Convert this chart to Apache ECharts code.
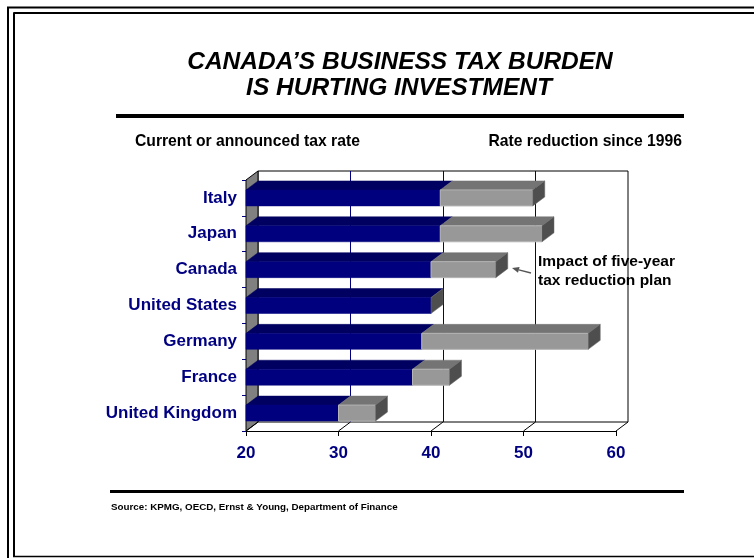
<!DOCTYPE html>
<html>
<head>
<meta charset="utf-8">
<script src="https://cdn.jsdelivr.net/npm/echarts@6/dist/echarts.min.js"></script>
<style>
  html, body { margin: 0; padding: 0; background: #fff; }
  #chart { width: 754px; height: 558px; }
</style>
</head>
<body>
<div id="chart"></div>
<script>
// Corporate tax rates, percent
const countries   = ['Italy', 'Japan', 'Canada', 'United States', 'Germany', 'France', 'United Kingdom'];
const currentRate = [41, 41, 40, 40, 39, 38, 30];   // current or announced rate
const rate1996    = [51, 52, 47, 40, 57, 42, 34];   // rate in 1996 (top of the grey segment)

// Rate axis
const axisMin = 20;
const axisMax = 60;
const axisStep = 10;

const FONT = '"Liberation Sans", Arial, Helvetica, sans-serif';
const NAVY = '#000080';
const DX = 12, DY = -9;   // depth offset used for the 3-D walls and bars
const HALF = 8;           // half height of a bar's front face

const chart = echarts.init(document.getElementById('chart'), null, { renderer: 'canvas' });

// Side wall and floor lines, drawn from the front grid's own scale
function renderWalls(params, api) {
  const cs = params.coordSys;
  const left = cs.x, top = cs.y, bottom = cs.y + cs.height;
  const children = [{
    type: 'polygon',
    shape: { points: [[left, top], [left + DX, top + DY], [left + DX, bottom + DY], [left, bottom]] },
    style: { fill: '#808080', stroke: '#000', lineWidth: 1 }
  }];
  for (let v = axisMin; v <= axisMax; v += axisStep) {
    const x = api.coord([v, 0])[0];
    children.push({
      type: 'line',
      shape: { x1: x, y1: bottom, x2: x + DX, y2: bottom + DY },
      style: { stroke: '#000', lineWidth: 1 }
    });
  }
  return { type: 'group', children: children };
}

function topFace(xa, xb, yTop, fill) {
  return {
    type: 'polygon',
    shape: { points: [[xa, yTop], [xb, yTop], [xb + DX, yTop + DY], [xa + DX, yTop + DY]] },
    style: { fill: fill, stroke: fill, lineWidth: 0.5 }
  };
}

// One 3-D stacked bar: navy (current rate) + grey (reduction since 1996)
function renderBar(params, api) {
  const i = api.value(0);
  const cur = api.value(1);
  const old = api.value(2);
  const p0 = api.coord([axisMin, i]);
  const p1 = api.coord([cur, i]);
  const p2 = api.coord([old, i]);
  const cy = p0[1];
  const x0 = p0[0], x1 = p1[0], x2 = p2[0];
  const yT = cy - HALF, yB = cy + HALF;
  const children = [
    topFace(x0, x1, yT, '#000060'),
    { type: 'rect', shape: { x: x0, y: yT, width: x1 - x0, height: yB - yT },
      style: { fill: '#00007e', stroke: '#00007e', lineWidth: 0.5 } }
  ];
  if (x2 > x1) {
    children.push(topFace(x1, x2, yT, '#747474'));
    children.push({ type: 'rect', shape: { x: x1, y: yT, width: x2 - x1, height: yB - yT },
      style: { fill: '#989898', stroke: '#b4b4b4', lineWidth: 1 } });
  }
  children.push({
    type: 'polygon',
    shape: { points: [[x2, yT], [x2 + DX, yT + DY], [x2 + DX, yB + DY], [x2, yB]] },
    style: { fill: '#4e4e4e', stroke: '#6a6a6a', lineWidth: 0.5 }
  });
  return { type: 'group', children: children };
}

const option = {
  animation: false,
  backgroundColor: '#fff',
  grid: [
    // front plane
    { left: 246, right: 138, top: 180, bottom: 127, show: false },
    // back wall
    { left: 258, right: 126, top: 171, bottom: 136, show: true,
      backgroundColor: '#fff', borderColor: '#000', borderWidth: 1 }
  ],
  xAxis: [
    {
      gridIndex: 0, type: 'value', min: axisMin, max: axisMax, interval: axisStep,
      axisLine: { show: true, lineStyle: { color: '#000', width: 1 } },
      axisTick: { show: true, length: 5, lineStyle: { color: '#000' } },
      axisLabel: { color: NAVY, fontFamily: FONT, fontWeight: 'bold', fontSize: 17, margin: 14 },
      splitLine: { show: false }
    },
    {
      gridIndex: 1, type: 'value', min: axisMin, max: axisMax, interval: axisStep,
      axisLine: { show: false }, axisTick: { show: false }, axisLabel: { show: false },
      splitLine: { show: true, showMinLine: false, showMaxLine: false,
                   lineStyle: { color: NAVY, width: 1 } }
    }
  ],
  yAxis: [
    {
      gridIndex: 0, type: 'category', data: countries, inverse: true,
      axisLine: { show: true, lineStyle: { color: '#000040', width: 1 } },
      axisTick: { show: true, length: 4, lineStyle: { color: NAVY } },
      axisLabel: { color: NAVY, fontFamily: FONT, fontWeight: 'bold', fontSize: 17, margin: 9 },
      splitLine: { show: false }
    },
    {
      gridIndex: 1, type: 'category', data: countries, inverse: true, show: false
    }
  ],
  series: [
    {
      type: 'custom', name: 'walls', xAxisIndex: 0, yAxisIndex: 0, z: 1,
      renderItem: renderWalls, data: [[axisMin, 0]], encode: { x: 0, y: 1 }, silent: true
    },
    {
      type: 'custom', name: 'rates', xAxisIndex: 0, yAxisIndex: 0, z: 3,
      renderItem: renderBar,
      data: countries.map((c, i) => [i, currentRate[i], rate1996[i]]),
      encode: { x: [1, 2], y: 0 }
    }
  ],
  graphic: [
    // page frame
    { type: 'line', shape: { x1: 7, y1: 7.5, x2: 754, y2: 7.5 }, style: { stroke: '#000', lineWidth: 2 } },
    { type: 'line', shape: { x1: 8, y1: 7, x2: 8, y2: 558 }, style: { stroke: '#000', lineWidth: 2 } },
    { type: 'line', shape: { x1: 13.5, y1: 13, x2: 754, y2: 13 }, style: { stroke: '#000', lineWidth: 2 } },
    { type: 'line', shape: { x1: 14, y1: 12.5, x2: 14, y2: 557 }, style: { stroke: '#000', lineWidth: 2 } },
    { type: 'line', shape: { x1: 13, y1: 556.5, x2: 754, y2: 556.5 }, style: { stroke: '#000', lineWidth: 1.5 } },
    // title
    { type: 'text', x: 400, y: 62, style: { text: 'CANADA’S BUSINESS TAX BURDEN', font: 'italic bold 24.5px ' + FONT,
      fill: '#000', textAlign: 'center', textVerticalAlign: 'middle' } },
    { type: 'text', x: 399, y: 88, style: { text: 'IS HURTING INVESTMENT', font: 'italic bold 24.5px ' + FONT,
      fill: '#000', textAlign: 'center', textVerticalAlign: 'middle' } },
    { type: 'rect', shape: { x: 116, y: 114, width: 568, height: 4 }, style: { fill: '#000' } },
    // column headings
    { type: 'text', x: 135, y: 142, style: { text: 'Current or announced tax rate', font: 'bold 15.7px ' + FONT,
      fill: '#000', textAlign: 'left', textVerticalAlign: 'middle' } },
    { type: 'text', x: 682, y: 142, style: { text: 'Rate reduction since 1996', font: 'bold 15.7px ' + FONT,
      fill: '#000', textAlign: 'right', textVerticalAlign: 'middle' } },
    // annotation for Canada
    { type: 'text', x: 538, y: 262, z: 20, style: { text: 'Impact of five-year', font: 'bold 15.5px ' + FONT,
      fill: '#000', textAlign: 'left', textVerticalAlign: 'middle' } },
    { type: 'text', x: 538, y: 281, z: 20, style: { text: 'tax reduction plan', font: 'bold 15.5px ' + FONT,
      fill: '#000', textAlign: 'left', textVerticalAlign: 'middle' } },
    { type: 'line', z: 20, shape: { x1: 531, y1: 273, x2: 518.8, y2: 269.8 }, style: { stroke: '#555', lineWidth: 1.3 } },
    { type: 'polygon', z: 20, shape: { points: [[512, 268], [519.6, 266.9], [518.0, 272.7]] }, style: { fill: '#555' } },
    // footer
    { type: 'rect', shape: { x: 110, y: 490, width: 574, height: 3 }, style: { fill: '#000' } },
    { type: 'text', x: 111, y: 507, style: { text: 'Source: KPMG, OECD, Ernst & Young, Department of Finance',
      font: 'bold 9.8px ' + FONT, fill: '#000', textAlign: 'left', textVerticalAlign: 'middle' } }
  ]
};

chart.setOption(option);
</script>
</body>
</html>
